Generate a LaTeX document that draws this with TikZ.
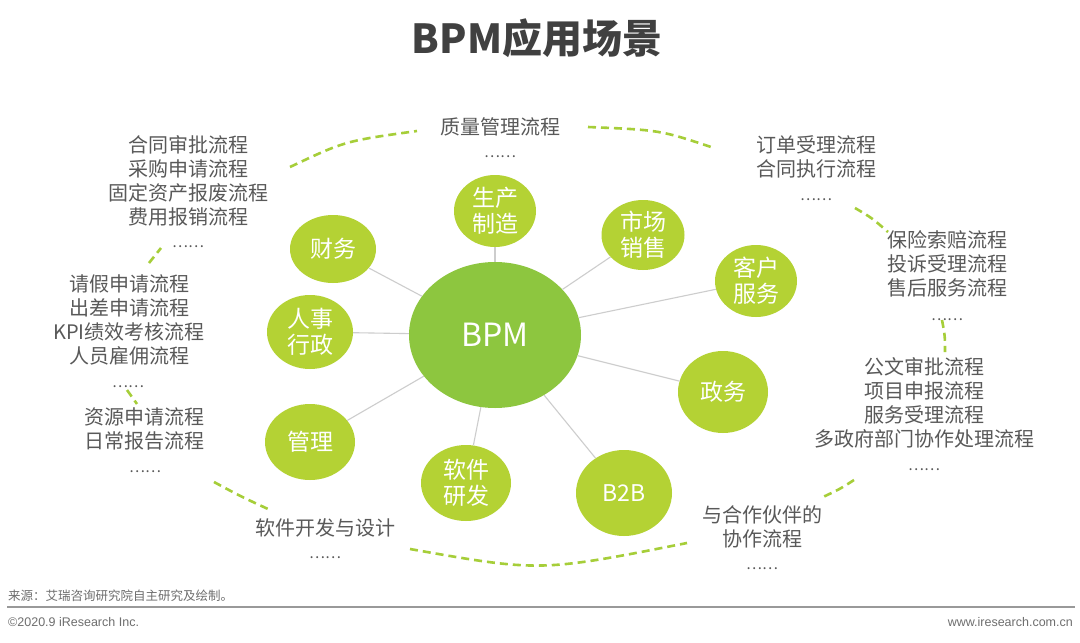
\documentclass[tikz,border=0pt]{standalone}
\usepackage{fontspec}
\setmainfont{Noto Sans CJK SC}
\newfontfamily\footfont{Liberation Sans}
\usetikzlibrary{shapes.geometric}
\definecolor{centergreen}{RGB}{141,198,63}
\definecolor{leafgreen}{RGB}{180,210,52}
\definecolor{dashgreen}{RGB}{166,206,57}
\definecolor{txtgray}{RGB}{89,89,89}
\definecolor{titlegray}{RGB}{64,64,64}
\definecolor{linkgray}{RGB}{205,205,205}
\definecolor{footgray}{RGB}{110,110,110}
\tikzset{
  hub/.style={ellipse, fill=centergreen, text=white, inner sep=0pt,
    minimum width=172, minimum height=146, font=\fontsize{32}{36}\selectfont},
  leaf/.style={ellipse, fill=leafgreen, text=white, inner sep=0pt, align=center,
    font=\fontsize{23}{26}\selectfont},
  link/.style={draw=linkgray, line width=1.1pt},
  lbl/.style={text=txtgray, align=center, inner sep=0pt, font=\fontsize{20}{24}\selectfont},
  dotsl/.style={text=txtgray, inner sep=0pt, font=\fontsize{15}{18}\selectfont},
  arcdash/.style={draw=dashgreen, line width=2.6pt, dash pattern=on 8pt off 5pt},
  foot/.style={text=footgray, inner sep=0pt, font=\fontsize{12.5}{14}\selectfont}
}
\begin{document}
\begin{tikzpicture}[x=1pt,y=-1pt]
\useasboundingbox[fill=white] (0,0) rectangle (1080,643);

% title
\node[text=titlegray, font=\fontsize{40}{44}\selectfont\bfseries, inner sep=0pt] (title) at (537,38) {BPM应用场景};

% hub and leaves
\node[hub] (bpm) at (495,335) {BPM};
\node[leaf, minimum width=82, minimum height=72] (prod) at (495,211) {生产\\制造};
\node[leaf, minimum width=83, minimum height=70] (mkt) at (643,235) {市场\\销售};
\node[leaf, minimum width=82, minimum height=72] (cust) at (756,281) {客户\\服务};
\node[leaf, minimum width=90, minimum height=82] (gov) at (723,392) {政务};
\node[leaf, minimum width=96, minimum height=86] (btb) at (624,493) {B2B};
\node[leaf, minimum width=90, minimum height=76] (soft) at (466,483) {软件\\研发};
\node[leaf, minimum width=90, minimum height=76] (mgmt) at (310,442) {管理};
\node[leaf, minimum width=86, minimum height=74] (hr) at (310,332) {人事\\行政};
\node[leaf, minimum width=86, minimum height=68] (fin) at (333,249) {财务};

\foreach \n in {prod,mkt,cust,gov,btb,soft,mgmt,hr,fin}
  \draw[link] (bpm) -- (\n);

% labels
\node[lbl] (qual) at (500,127) {质量管理流程};
\node[dotsl] (quald) at (500,157) {……};

\node[lbl] (finl) at (188,181) {合同审批流程\\采购申请流程\\固定资产报废流程\\费用报销流程};
\node[dotsl] (finld) at (188,247) {……};

\node[lbl] (hrl) at (129,320) {请假申请流程\\出差申请流程\\KPI绩效考核流程\\人员雇佣流程};
\node[dotsl] (hrld) at (128,387) {……};

\node[lbl] (mgl) at (144,429) {资源申请流程\\日常报告流程};
\node[dotsl] (mgld) at (145,472) {……};

\node[lbl] (sfl) at (325,528) {软件开发与设计};
\node[dotsl] (sfld) at (325,558) {……};

\node[lbl] (bbl) at (762,527) {与合作伙伴的\\协作流程};
\node[dotsl] (bbld) at (762,569) {……};

\node[lbl] (mkl) at (816,157) {订单受理流程\\合同执行流程};
\node[dotsl] (mkld) at (816,200) {……};

\node[lbl] (csl) at (947,264) {保险索赔流程\\投诉受理流程\\售后服务流程};
\node[dotsl] (csld) at (947,320) {……};

\node[lbl] (gvl) at (924,403) {公文审批流程\\项目申报流程\\服务受理流程\\多政府部门协作处理流程};
\node[dotsl] (gvld) at (924,470) {……};

% dashed arcs
\draw[arcdash] (290,167) .. controls (345,141) .. (417,131);
\draw[arcdash] (588,127) .. controls (660,130) .. (714,148);
\draw[arcdash] (855,208) .. controls (872,218) .. (888,232);
\draw[arcdash] (942,320) .. controls (945,336) .. (945,352);
\draw[arcdash] (854,480) .. controls (840,489) .. (823,497);
\draw[arcdash] (410,549) .. controls (540,572) .. (687,543);
\draw[arcdash] (214,482) .. controls (240,496) .. (268,509);
\draw[arcdash] (149,263) -- (161,248);
\draw[arcdash] (127,390) -- (137,404);

% footer
\node[foot, anchor=west] (src) at (8,596) {来源：艾瑞咨询研究院自主研究及绘制。};
\draw[draw=gray!80, line width=1.5pt] (7,607) -- (1075,607);
\node[foot, anchor=west, font=\footfont\fontsize{12.5}{14}\selectfont] (copy) at (8,622) {©2020.9 iResearch Inc.};
\node[foot, anchor=east, font=\footfont\fontsize{12.5}{14}\selectfont] (web) at (1073,622) {www.iresearch.com.cn};
\end{tikzpicture}
\end{document}
